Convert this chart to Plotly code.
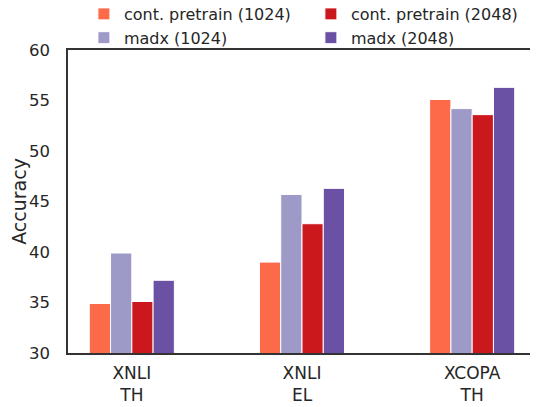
import plotly.graph_objects as go

categories = ["XNLI<br>TH", "XNLI<br>EL", "XCOPA<br>TH"]
series_names = ["cont. pretrain (1024)", "madx (1024)", "cont. pretrain (2048)", "madx (2048)"]
cont_1024 = [34.9, 39.0, 55.1]
madx_1024 = [39.9, 45.7, 54.2]
cont_2048 = [35.1, 42.8, 53.6]
madx_2048 = [37.2, 46.3, 56.3]
y_ticks = [30, 35, 40, 45, 50, 55, 60]
y_title = "Accuracy"

series_values = [cont_1024, madx_1024, cont_2048, madx_2048]
colors = ["#fc6a4a", "#9e9ac8", "#cb181d", "#6a51a3"]
legend_ids = ["legend", "legend", "legend2", "legend2"]

FONT = "DejaVu Sans"
TXT = "#262626"

fig = go.Figure()
for name, vals, col, lg in zip(series_names, series_values, colors, legend_ids):
    fig.add_trace(go.Bar(
        x=categories, y=vals, name=name, legend=lg,
        marker=dict(color=col, line=dict(color="white", width=1)),
    ))

leg_common = dict(
    orientation="v", xref="paper", yref="paper",
    y=1.175, xanchor="left", yanchor="top",
    font=dict(size=16, family=FONT, color=TXT),
    itemwidth=30, bgcolor="rgba(0,0,0,0)", tracegroupgap=0,
)

fig.update_layout(
    width=530, height=399,
    barmode="group", bargap=0.5, bargroupgap=0,
    plot_bgcolor="white", paper_bgcolor="white",
    margin=dict(l=60, r=2, t=42, b=54, autoexpand=False),
    font=dict(family=FONT, color=TXT, size=16),
    showlegend=True,
    legend=dict(x=0.034, **leg_common),
    legend2=dict(x=0.519, **leg_common),
)
fig.update_xaxes(
    type="category", range=[-0.375, 2.375],
    showline=True, linecolor="#333333", linewidth=1.5, mirror=True,
    showgrid=False, ticks="outside", ticklen=4, tickcolor="rgba(0,0,0,0)",
    tickfont=dict(size=17, family=FONT, color=TXT),
)
fig.update_yaxes(
    range=[30, 60], tickvals=y_ticks,
    showline=True, linecolor="#333333", linewidth=1.5, mirror=True,
    showgrid=False, zeroline=False, ticks="outside", ticklen=13, tickcolor="rgba(0,0,0,0)",
    tickfont=dict(size=16.5, family=FONT, color=TXT),
    title=dict(text=y_title, font=dict(size=19, family=FONT, color=TXT), standoff=1),
)

fig.write_html("out.html")
